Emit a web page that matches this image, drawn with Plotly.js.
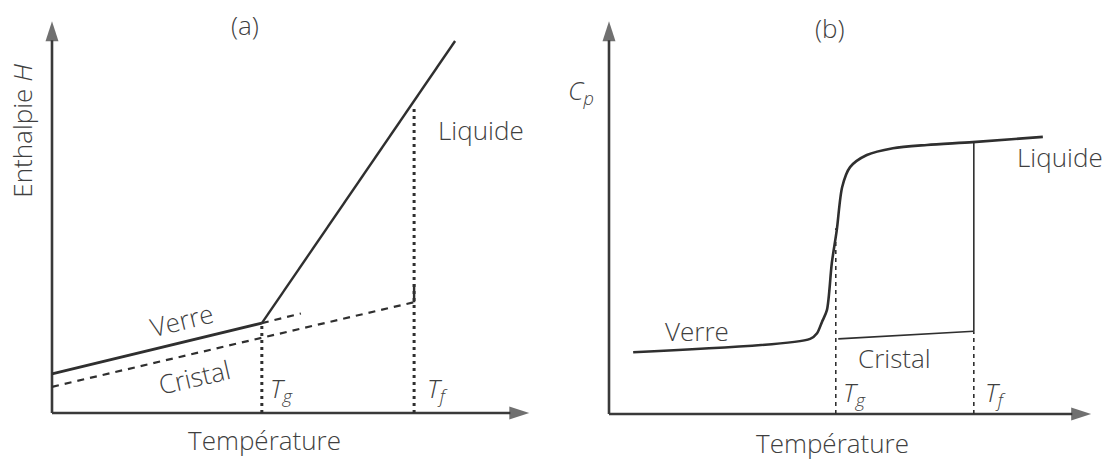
<!DOCTYPE html>
<html>
<head>
<meta charset="utf-8">
<script src="https://cdn.plot.ly/plotly-3.0.1.min.js"></script>
<style>html,body{margin:0;padding:0;background:#fff;}#chart{width:1109px;height:462px;}</style>
</head>
<body>
<div id="chart"></div>
<script>
// ---------- Panel (a): Enthalpie H vs Température ----------
const verreA_T = [0, 4.3];
const verreA_H = [0.97, 2.23];
const liquideA_T = [4.3, 8.26];
const liquideA_H = [2.23, 9.23];
const cristalA_T = [0, 7.42];
const cristalA_H = [0.65, 2.75];
const verreExtA_T = [4.3, 5.1];
const verreExtA_H = [2.23, 2.47];
const tgA = 4.3;
const tfA = 7.42;
const tgA_H = [0, 2.23];
const tfA_H = [0, 7.6];
const tfJointA_H = [2.75, 3.2];

// ---------- Panel (b): Cp vs Température ----------
const verreB_T = [0.49, 4.08, 4.22, 4.32, 4.42, 4.52, 4.62, 4.73, 4.89, 5.23, 5.76, 6.45, 7.38, 8.80];
const verreB_Cp = [1.53, 1.86, 2.0, 2.28, 2.57, 3.74, 4.55, 5.62, 6.11, 6.41, 6.58, 6.66, 6.73, 6.86];
const cristalB_T = [4.65, 7.40];
const cristalB_Cp = [1.86, 2.05];
const tgB = 4.60;
const tfB = 7.40;
const tgB_Cp = [0, 4.6];
const tfB_Cp = [0, 2.05];
const tfJumpB_Cp = [2.05, 6.73];

// axis arrows (data units)
const axisX_T = [0, 9.78];
const axisX_V = [0, 0];
const axisY_T = [0, 0];
const axisY_V = [0, 9.72];

// ---------- Labels ----------
const labelsA = [
  {text: '(a)', x: 3.95, y: 9.63, angle: 0},
  {text: 'Verre', x: 2.66, y: 2.3, angle: -14},
  {text: 'Cristal', x: 2.91, y: 0.9, angle: -13},
  {text: 'Liquide', x: 8.8, y: 7.02, angle: 0},
  {text: '<i>T<sub>g</sub></i>', x: 4.7, y: 0.6, angle: 0},
  {text: '<i>T<sub>f</sub></i>', x: 7.89, y: 0.6, angle: 0},
  {text: 'Température', x: 4.36, y: -0.67, angle: 0},
  {text: 'Enthalpie <i>H</i>', x: -0.62, y: 7.0, angle: -90}
];
const labelsB = [
  {text: '(b)', x: 4.48, y: 9.55, angle: 0},
  {text: '<i>C<sub>p</sub></i>', x: -0.57, y: 8.0, angle: 0},
  {text: 'Verre', x: 1.78, y: 2.05, angle: 0},
  {text: 'Cristal', x: 5.80, y: 1.39, angle: 0},
  {text: 'Liquide', x: 9.14, y: 6.36, angle: 0},
  {text: '<i>T<sub>g</sub></i>', x: 4.98, y: 0.52, angle: 0},
  {text: '<i>T<sub>f</sub></i>', x: 7.83, y: 0.52, angle: 0},
  {text: 'Température', x: 4.54, y: -0.72, angle: 0}
];

const ink = '#2f2f2f';
const textCol = '#3f3f3f';
const fontFam = '"Open Sans", "DejaVu Sans", sans-serif';

function line(x, y, xa, ya, width, dash, shape) {
  return {x: x, y: y, xaxis: xa, yaxis: ya, type: 'scatter', mode: 'lines',
    line: {color: ink, width: width, dash: dash || 'solid', shape: shape || 'linear', smoothing: 0.8},
    hoverinfo: 'skip', showlegend: false};
}
function axisArrow(x, y, xa, ya) {
  return {x: x, y: y, xaxis: xa, yaxis: ya, type: 'scatter', mode: 'lines+markers',
    cliponaxis: false,
    line: {color: '#3a3a3a', width: 2.6},
    marker: {symbol: ['circle', 'arrow'], size: [0, 21], angleref: 'previous', color: '#333333',
      line: {width: 0}},
    hoverinfo: 'skip', showlegend: false};
}

const traces = [
  // axes
  axisArrow(axisX_T, axisX_V, 'x', 'y'),
  axisArrow(axisY_T, axisY_V, 'x', 'y'),
  axisArrow(axisX_T, axisX_V, 'x2', 'y2'),
  axisArrow(axisY_T, axisY_V, 'x2', 'y2'),
  // panel a
  line(verreA_T, verreA_H, 'x', 'y', 2.8),
  line(liquideA_T, liquideA_H, 'x', 'y', 2.4),
  line(cristalA_T, cristalA_H, 'x', 'y', 2.2, '7px,6px'),
  line(verreExtA_T, verreExtA_H, 'x', 'y', 2.2, '7px,6px'),
  line([tgA, tgA], tgA_H, 'x', 'y', 3, '3px,4px'),
  line([tfA, tfA], tfA_H, 'x', 'y', 3, '3px,4px'),
  line([tfA, tfA], tfJointA_H, 'x', 'y', 2.4),
  // panel b
  line(verreB_T, verreB_Cp, 'x2', 'y2', 2.6, 'solid', 'spline'),
  line(cristalB_T, cristalB_Cp, 'x2', 'y2', 1.6),
  line([tfB, tfB], tfJumpB_Cp, 'x2', 'y2', 1.6),
  line([tgB, tgB], tgB_Cp, 'x2', 'y2', 1.6, '4px,4px'),
  line([tfB, tfB], tfB_Cp, 'x2', 'y2', 1.6, '4px,4px')
];

function textAnn(l, xr, yr) {
  return {text: l.text, x: l.x, y: l.y, xref: xr, yref: yr, showarrow: false,
    textangle: l.angle, xanchor: 'center', yanchor: 'middle',
    font: {family: fontFam, size: 26, color: textCol, weight: 300}};
}

const annotations = []
  .concat(labelsA.map(l => textAnn(l, 'x', 'y')))
  .concat(labelsB.map(l => textAnn(l, 'x2', 'y2')));

// domain helpers: pixel position of value 0 and value 10, lower bound of range
const W = 1109, H = 462;
function domX(p0, p10, lo) { const s = (p10 - p0) / 10; return [(p0 + lo * s) / W, p10 / W]; }
function domY(p0, p10, lo) { const s = (p0 - p10) / 10; return [(H - (p0 - lo * s)) / H, (H - p10) / H]; }

const hidden = {showgrid: false, zeroline: false, showticklabels: false, showline: false, ticks: '', fixedrange: true};

const layout = {
  width: W, height: H,
  margin: {l: 0, r: 0, t: 0, b: 0},
  paper_bgcolor: '#ffffff', plot_bgcolor: 'rgba(0,0,0,0)',
  showlegend: false,
  xaxis: Object.assign({}, hidden, {range: [-1.05, 10], domain: domX(52, 540, -1.05), anchor: 'y'}),
  yaxis: Object.assign({}, hidden, {range: [-1.1, 10], domain: domY(413, 10, -1.1), anchor: 'x'}),
  xaxis2: Object.assign({}, hidden, {range: [-1.0, 10], domain: domX(609, 1102, -1.0), anchor: 'y2'}),
  yaxis2: Object.assign({}, hidden, {range: [-1.1, 10], domain: domY(414, 10, -1.1), anchor: 'x2'}),
  annotations: annotations,
  hovermode: false
};

Plotly.newPlot('chart', traces, layout, {staticPlot: true, displayModeBar: false});
</script>
</body>
</html>
